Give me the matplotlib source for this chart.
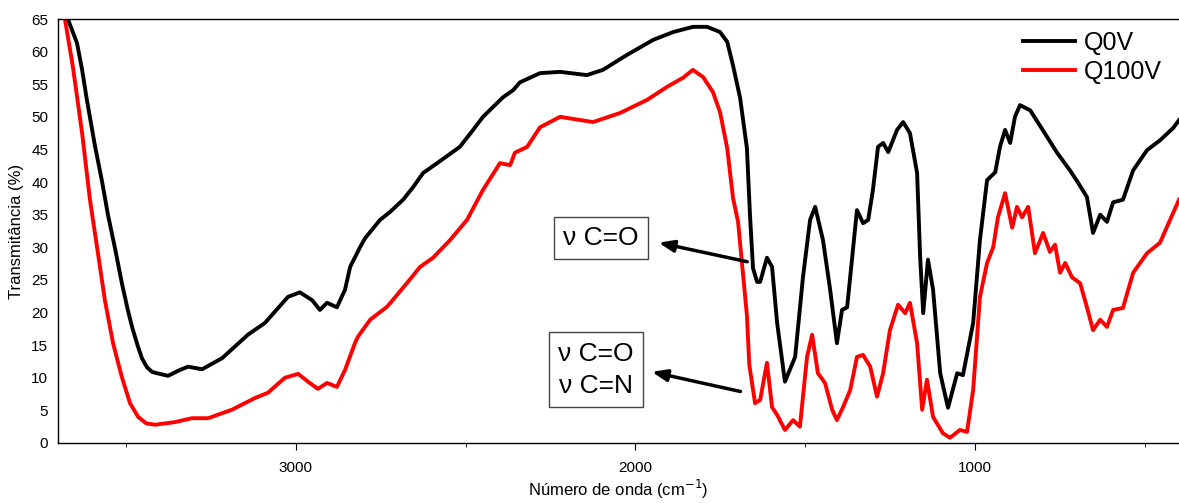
import matplotlib.pyplot as plt
from matplotlib.ticker import MultipleLocator

plt.rcParams['font.family'] = ['Liberation Sans', 'DejaVu Sans']

# Q0V spectrum (wavenumber cm-1, transmittance %)
wn_q0v = [3671, 3644, 3629, 3615, 3591, 3570, 3553, 3532, 3512, 3495, 3482, 3466,
          3453, 3438, 3423, 3409, 3376, 3341, 3317, 3276, 3217, 3141, 3091, 3023,
          2988, 2952, 2929, 2908, 2879, 2855, 2840, 2811, 2796, 2752, 2723, 2684,
          2655, 2625, 2584, 2517, 2478, 2449, 2390, 2360, 2340, 2281, 2222, 2143,
          2096, 2025, 1948, 1889, 1831, 1789, 1751, 1730, 1713, 1692, 1672, 1663,
          1654, 1642, 1633, 1613, 1598, 1583, 1560, 1530, 1507, 1486, 1471, 1448,
          1427, 1407, 1392, 1377, 1362, 1348, 1330, 1315, 1301, 1286, 1271, 1256,
          1230, 1212, 1192, 1171, 1162, 1153, 1139, 1124, 1103, 1080, 1053, 1036,
          1006, 986, 965, 941, 927, 912, 897, 883, 868, 838, 788, 759, 721, 697,
          671, 653, 632, 612, 594, 565, 535, 494, 456, 417, 400]
t_q0v = [65.0, 61.3, 57.2, 52.6, 45.5, 40.0, 35.0, 29.8, 24.5, 20.5, 17.8, 15.0,
         13.0, 11.6, 10.9, 10.7, 10.3, 11.2, 11.7, 11.3, 13.0, 16.6, 18.4, 22.4,
         23.1, 21.9, 20.4, 21.5, 20.8, 23.5, 27.0, 30.0, 31.4, 34.2, 35.4, 37.3,
         39.2, 41.4, 42.9, 45.4, 48.0, 50.0, 53.0, 54.1, 55.3, 56.7, 56.9, 56.4,
         57.2, 59.5, 61.8, 63.0, 63.8, 63.8, 63.0, 61.5, 57.9, 52.9, 45.2, 35.0,
         26.8, 24.7, 24.7, 28.4, 27.0, 18.4, 9.4, 13.2, 25.4, 34.2, 36.2, 31.1,
         23.5, 15.3, 20.4, 20.8, 28.5, 35.7, 33.7, 34.2, 38.8, 45.4, 46.0, 44.6,
         48.0, 49.2, 47.5, 41.4, 28.5, 19.9, 28.1, 23.5, 10.7, 5.4, 10.7, 10.4,
         18.4, 31.1, 40.3, 41.5, 45.4, 48.0, 46.0, 50.0, 51.8, 51.0, 46.9, 44.5,
         41.8, 39.9, 37.7, 32.2, 35.0, 33.9, 36.9, 37.3, 41.8, 44.9, 46.4, 48.3, 49.5]

# Q100V spectrum
wn_q100v = [3679, 3656, 3629, 3606, 3585, 3562, 3538, 3512, 3488, 3464, 3440, 3414,
            3356, 3306, 3258, 3188, 3120, 3082, 3032, 2993, 2964, 2935, 2908, 2879,
            2855, 2826, 2817, 2781, 2731, 2673, 2634, 2596, 2546, 2496, 2449, 2399,
            2369, 2355, 2319, 2281, 2222, 2125, 2045, 1966, 1907, 1860, 1831, 1801,
            1772, 1751, 1730, 1713, 1698, 1686, 1672, 1665, 1648, 1633, 1613, 1598,
            1583, 1560, 1536, 1516, 1495, 1480, 1463, 1442, 1421, 1407, 1389, 1368,
            1348, 1330, 1309, 1289, 1271, 1251, 1227, 1206, 1192, 1171, 1156, 1142,
            1124, 1095, 1074, 1045, 1024, 1006, 986, 965, 947, 933, 912, 891, 877,
            862, 844, 824, 800, 780, 765, 750, 735, 715, 691, 671, 653, 632, 612,
            594, 565, 535, 494, 456, 417, 400]
t_q100v = [64.8, 57.6, 47.5, 37.3, 30.0, 21.9, 15.3, 10.1, 6.1, 4.0, 3.0, 2.8,
           3.2, 3.8, 3.8, 5.1, 6.9, 7.7, 10.0, 10.6, 9.4, 8.3, 9.2, 8.6,
           11.2, 15.3, 16.3, 18.9, 20.9, 24.5, 27.0, 28.4, 31.1, 34.2, 38.8, 42.9,
           42.6, 44.5, 45.4, 48.4, 50.0, 49.2, 50.6, 52.6, 54.6, 56.0, 57.2, 56.1,
           53.8, 50.7, 45.2, 37.6, 33.9, 27.3, 19.6, 12.0, 6.1, 6.6, 12.3, 5.5,
           4.3, 2.0, 3.5, 2.5, 13.2, 16.6, 10.7, 9.2, 5.1, 3.5, 5.5, 8.1,
           13.2, 13.5, 11.7, 7.1, 10.7, 17.3, 21.2, 19.9, 21.5, 15.3, 5.1, 9.7,
           4.0, 1.5, 0.8, 2.0, 1.7, 8.1, 22.4, 27.6, 30.0, 34.6, 38.3, 33.0, 36.2,
           34.6, 36.2, 29.1, 32.2, 29.3, 30.4, 26.1, 27.6, 25.4, 24.5, 20.8, 17.3,
           18.9, 17.8, 20.4, 20.7, 26.1, 29.1, 30.7, 35.3, 37.3]

fig = plt.figure(figsize=(11.79, 5.03), dpi=100)
ax = fig.add_axes([0.0492, 0.1193, 0.9508, 0.8429])

ax.plot(wn_q0v, t_q0v, color='black', lw=2.8, label='Q0V')
ax.plot(wn_q100v, t_q100v, color='#ff0000', lw=2.8, label='Q100V')

ax.set_xlim(3700, 400)
ax.set_ylim(0, 65)
ax.xaxis.set_major_locator(MultipleLocator(1000))
ax.xaxis.set_minor_locator(MultipleLocator(500))
ax.yaxis.set_major_locator(MultipleLocator(5))
ax.tick_params(axis='x', which='major', direction='out', length=5, labelsize=11, pad=8)
ax.tick_params(axis='x', which='minor', direction='out', length=3)
ax.tick_params(axis='y', length=0, labelsize=11, pad=7)
ax.spines['right'].set_visible(False)
for s in ['left', 'bottom', 'top']:
    ax.spines[s].set_linewidth(1.0)

ax.set_xlabel('Número de onda (cm$^{-1}$)', fontsize=12, labelpad=2)
ax.set_ylabel('Transmitância (%)', fontsize=12, labelpad=5)

ax.legend(loc='upper right', frameon=False, fontsize=18, handlelength=2.1,
          handletextpad=0.35, labelspacing=0.2, bbox_to_anchor=(1.005, 1.025))

box = dict(boxstyle='square,pad=0.35', fc='white', ec='#444444', lw=1)
ax.text(2101, 31.4, 'ν C=O', fontsize=19, ha='center', va='center', bbox=box)
ax.text(2116, 11.2, 'ν C=O\nν C=N', fontsize=19, ha='center', va='center',
        linespacing=1.45, bbox=box)

arrow = dict(arrowstyle='-|>,head_length=0.9,head_width=0.35', color='black', lw=2.5)
ax.annotate('', xy=(1940, 30.8), xytext=(1663, 27.7), arrowprops=arrow)
ax.annotate('', xy=(1960, 11.0), xytext=(1683, 7.8), arrowprops=arrow)

fig.savefig('out.png', dpi=100)
